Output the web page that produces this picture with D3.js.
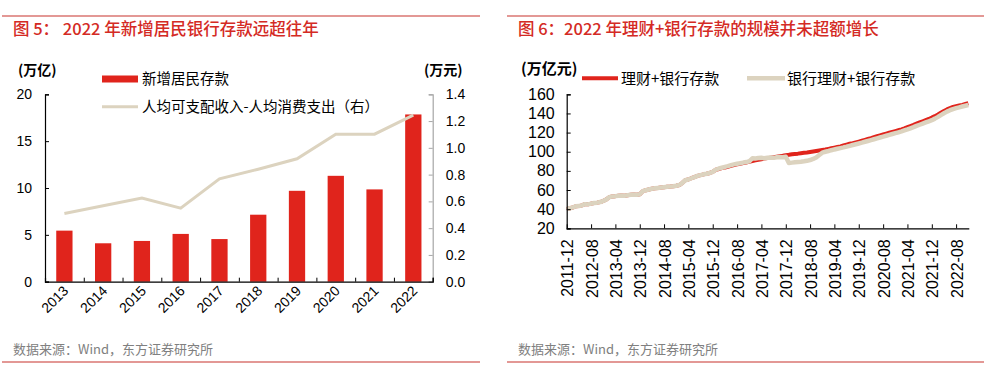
<!DOCTYPE html>
<html>
<head>
<meta charset="utf-8">
<script src="https://cdn.jsdelivr.net/npm/d3@7"></script>
<style>
    body { margin: 0; background: #fff; }
    svg text { font-family: "Liberation Sans", Arial, sans-serif; fill: #000; }
    svg text.cjk { font-family: "Noto Sans CJK SC", "Liberation Sans", sans-serif; }
</style>
</head>
<body>
<svg id="chart" width="999" height="378"></svg>
<script>
// ---- data: left chart (figure 5)
const years = ["2013", "2014", "2015", "2016", "2017", "2018", "2019", "2020", "2021", "2022"];
const newDeposits = [5.45, 4.1, 4.35, 5.1, 4.55, 7.15, 9.7, 11.3, 9.85, 17.85];
const incomeSurplus = [0.51, 0.567, 0.625, 0.55, 0.768, 0.84, 0.918, 1.102, 1.102, 1.245];
const leftTicks = [0, 5, 10, 15, 20];
const rightTicks = [0, 0.2, 0.4, 0.6, 0.8, 1.0, 1.2, 1.4];

// ---- data: right chart (figure 6), monthly 2011-12 .. 2022-12
const firstMonth = "2011-12";
const monthTickLabels = ["2011-12", "2012-08", "2013-04", "2013-12", "2014-08", "2015-04", "2015-12", "2016-08",
    "2017-04", "2017-12", "2018-08", "2019-04", "2019-12", "2020-08", "2021-04", "2021-12", "2022-08"];
const wmpDeposit = [40.0,
    41.0, 41.8, 43.0, 43.2, 44.0, 45.2, 45.0, 45.8, 46.5, 46.8, 47.4, 48.6,
    50.2, 52.5, 53.3, 53.6, 54.0, 54.3, 54.1, 54.6, 55.0, 55.2, 55.0, 55.6,
    58.8, 59.8, 60.5, 61.3, 61.8, 62.2, 62.6, 63.0, 63.4, 63.6, 63.9, 64.5,
    65.2, 67.5, 70.2, 71.0, 72.3, 73.5, 74.8, 75.6, 76.4, 77.0, 77.8, 79.0,
    81.2, 82.0, 82.8, 83.6, 84.3, 85.2, 86.0, 86.8, 87.5, 88.2, 88.8, 89.6,
    90.3, 91.0, 91.6, 92.2, 92.8, 93.3, 93.8, 94.3, 94.8, 95.3, 95.8, 96.4,
    96.8, 97.3, 97.6, 98.0, 98.5, 98.9, 99.3, 99.8, 100.3, 100.8, 101.3, 101.8,
    102.3, 103.0, 103.6, 104.3, 105.0, 105.6, 106.5, 107.4, 108.3, 109.0, 109.8, 110.6,
    111.5, 112.4, 113.3, 114.2, 115.2, 116.2, 117.1, 118.0, 118.9, 119.8, 120.7, 121.6,
    122.5, 123.4, 124.4, 125.6, 126.8, 128.0, 129.3, 130.6, 131.8, 133.0, 134.2, 135.6,
    137.2, 139.0, 140.8, 142.6, 144.2, 145.6, 146.8, 147.6, 148.3, 149.0, 149.8, 150.6];
const bankWmpDeposit = [40.0,
    41.0, 41.8, 43.0, 43.2, 44.0, 45.2, 45.0, 45.8, 46.5, 46.8, 47.4, 48.6,
    50.2, 52.5, 53.3, 53.6, 54.0, 54.3, 54.1, 54.6, 55.0, 55.2, 55.0, 55.6,
    58.8, 59.8, 60.5, 61.3, 61.8, 62.2, 62.6, 63.0, 63.4, 63.6, 63.9, 64.5,
    65.2, 67.5, 70.2, 71.0, 72.3, 73.5, 74.8, 75.6, 76.4, 77.0, 77.8, 79.0,
    81.2, 82.5, 83.3, 84.2, 85.0, 86.0, 86.8, 87.5, 88.0, 88.6, 89.2, 90.0,
    93.2, 93.0, 93.4, 93.6, 93.2, 93.8, 94.0, 93.6, 94.2, 94.4, 94.3, 94.8,
    88.2, 88.6, 89.0, 89.3, 89.6, 90.0, 90.5, 91.3, 92.5, 94.0, 96.5, 99.0,
    100.0, 100.8, 101.6, 102.4, 103.1, 103.8, 104.5, 105.3, 106.2, 107.0, 107.8, 108.6,
    109.5, 110.4, 111.2, 112.1, 113.0, 114.0, 114.9, 115.8, 116.7, 117.6, 118.5, 119.4,
    120.3, 121.2, 122.2, 123.3, 124.5, 125.7, 127.0, 128.2, 129.4, 130.6, 131.8, 133.0,
    134.6, 136.4, 138.3, 140.2, 141.9, 143.4, 144.6, 145.6, 146.4, 147.2, 148.0, 148.8];
const rightYTicks = [20, 40, 60, 80, 100, 120, 140, 160];

const RED = "#e0241c";
const BEIGE = "#dcd3bf";
const RULE = "#c8322d";

const svg = d3.select("svg#chart");

// Frame: red rules, title, source note
function frame(x0, x1, tx, title) {
    svg.append("line").attr("x1", x0).attr("x2", x1).attr("y1", 16).attr("y2", 16)
        .attr("stroke", RULE).attr("stroke-width", 1.2);
    svg.append("line").attr("x1", x0).attr("x2", x1).attr("y1", 362).attr("y2", 362)
        .attr("stroke", RULE).attr("stroke-width", 1.2);
    svg.append("text").attr("class", "cjk").attr("x", tx).attr("y", 35)
        .attr("font-size", 16.5).attr("font-weight", 500).style("fill", "#d42a24").text(title);
    svg.append("text").attr("class", "cjk").attr("x", tx).attr("y", 354)
        .attr("font-size", 13).style("fill", "#808080").text("数据来源：Wind，东方证券研究所");
}
frame(2, 480, 13, "图 5： 2022 年新增居民银行存款远超往年");
frame(507, 984, 518, "图 6：2022 年理财+银行存款的规模并未超额增长");

//#region left chart
const L = { left: 45, right: 432.7, top: 94.3, bottom: 281.7 };
const xBand = d3.scaleBand().domain(years).range([L.left, L.right]);
const yLeft = d3.scaleLinear().domain([0, 20]).range([L.bottom, L.top]);
const yRight = d3.scaleLinear().domain([0, 1.4]).range([L.bottom, L.top]);

const gl = svg.append("g");

// bars
const barW = xBand.bandwidth() * 0.42;
gl.selectAll("rect.bar").data(newDeposits).enter().append("rect")
    .attr("class", "bar")
    .attr("x", (d, i) => xBand(years[i]) + (xBand.bandwidth() - barW) / 2)
    .attr("width", barW)
    .attr("y", d => yLeft(d))
    .attr("height", d => yLeft(0) - yLeft(d))
    .attr("fill", RED);

// secondary line
const surplusLine = d3.line()
    .x((d, i) => xBand(years[i]) + xBand.bandwidth() / 2)
    .y(d => yRight(d));
gl.append("path").datum(incomeSurplus).attr("d", surplusLine)
    .attr("fill", "none").attr("stroke", BEIGE).attr("stroke-width", 3);

// axes
const axL = gl.append("g").attr("transform", `translate(${L.left},0)`)
    .call(d3.axisLeft(yLeft).tickValues(leftTicks).tickSize(-4).tickPadding(13));
const axR = gl.append("g").attr("transform", `translate(${L.right},0)`)
    .call(d3.axisRight(yRight).tickValues(rightTicks).tickSize(-4).tickPadding(13).tickFormat(d3.format(".1f")));
axR.selectAll("path,line").attr("stroke", "#a6a6a6");
const boundaries = d3.range(years.length + 1).map(i => L.left + i * xBand.step());
const axB = gl.append("g").attr("transform", `translate(0,${L.bottom})`)
    .call(d3.axisBottom(d3.scaleLinear().domain([L.left, L.right]).range([L.left, L.right]))
        .tickValues(boundaries).tickSize(-4).tickFormat(""));
[axL, axR, axB].forEach(a => {
    a.select(".domain").attr("stroke-width", 1.2);
    a.selectAll("text").attr("font-size", 14).attr("font-family", "Liberation Sans, Arial, sans-serif").style("fill", "#000");
});
axB.select(".domain").attr("stroke", "#000");

// rotated year labels
gl.selectAll("text.year").data(years).enter().append("text")
    .attr("class", "year")
    .attr("font-size", 14)
    .attr("text-anchor", "end")
    .attr("transform", d => `translate(${xBand(d) + xBand.bandwidth() / 2 + 5},${L.bottom + 10}) rotate(-45)`)
    .text(d => d);

// unit labels
gl.append("text").attr("class", "cjk").attr("x", 18).attr("y", 75).attr("font-size", 14)
    .attr("font-weight", "bold").text("(万亿)");
gl.append("text").attr("class", "cjk").attr("x", 424).attr("y", 75).attr("font-size", 14)
    .attr("font-weight", "bold").text("(万元)");

// legend
gl.append("rect").attr("x", 102).attr("y", 75.5).attr("width", 36).attr("height", 7).attr("fill", RED);
gl.append("text").attr("class", "cjk").attr("x", 142).attr("y", 84).attr("font-size", 14.5).text("新增居民存款");
gl.append("line").attr("x1", 102).attr("x2", 138).attr("y1", 106.7).attr("y2", 106.7)
    .attr("stroke", BEIGE).attr("stroke-width", 3);
gl.append("text").attr("class", "cjk").attr("x", 142).attr("y", 112).attr("font-size", 14.5)
    .text("人均可支配收入-人均消费支出（右）");
//#endregion

//#region right chart
const R = { left: 566.7, right: 968.3, top: 94.3, bottom: 228.3 };
const parseMonth = d3.timeParse("%Y-%m");
const months = d3.timeMonth.range(parseMonth(firstMonth), d3.timeMonth.offset(parseMonth(firstMonth), wmpDeposit.length));
const xTime = d3.scaleTime().domain([months[0], months[months.length - 1]]).range([R.left, R.right]);
const yVal = d3.scaleLinear().domain([20, 160]).range([R.bottom, R.top]);

const gr = svg.append("g");

const valLine = d3.line()
    .x((d, i) => xTime(months[i]))
    .y(d => yVal(d));
gr.append("path").datum(wmpDeposit).attr("d", valLine)
    .attr("fill", "none").attr("stroke", RED).attr("stroke-width", 4).attr("stroke-linejoin", "round");
gr.append("path").datum(bankWmpDeposit).attr("d", valLine)
    .attr("fill", "none").attr("stroke", BEIGE).attr("stroke-width", 4.5).attr("stroke-linejoin", "round");

const axRY = gr.append("g").attr("transform", `translate(${R.left},0)`)
    .call(d3.axisLeft(yVal).tickValues(rightYTicks).tickSize(-4).tickPadding(12));
const tickDates = monthTickLabels.map(parseMonth);
const axRX = gr.append("g").attr("transform", `translate(0,${R.bottom})`)
    .call(d3.axisBottom(xTime.copy().domain([months[0], d3.timeMonth.offset(months[months.length - 1], 0)]))
        .tickValues(tickDates).tickSize(-4).tickFormat(""));
axRX.select(".domain").attr("d", `M${R.left},0.5H${R.right + 1}`);
[axRY, axRX].forEach(a => {
    a.select(".domain").attr("stroke-width", 1.2);
    a.selectAll("text").attr("font-size", 16).attr("font-family", "Liberation Sans, Arial, sans-serif").style("fill", "#000");
});

gr.selectAll("text.month").data(monthTickLabels).enter().append("text")
    .attr("class", "month")
    .attr("font-size", 16)
    .attr("text-anchor", "end")
    .attr("dy", "0.35em")
    .attr("transform", d => `translate(${xTime(parseMonth(d)) + 1},${R.bottom + 11}) rotate(-90)`)
    .text(d => d);

gr.append("text").attr("class", "cjk").attr("x", 521).attr("y", 74).attr("font-size", 15)
    .attr("font-weight", "bold").text("(万亿元)");

// legend
gr.append("line").attr("x1", 582).attr("x2", 618).attr("y1", 78.3).attr("y2", 78.3)
    .attr("stroke", RED).attr("stroke-width", 4);
gr.append("text").attr("class", "cjk").attr("x", 621).attr("y", 84).attr("font-size", 15).text("理财+银行存款");
gr.append("line").attr("x1", 747).attr("x2", 785).attr("y1", 78.3).attr("y2", 78.3)
    .attr("stroke", BEIGE).attr("stroke-width", 4.5);
gr.append("text").attr("class", "cjk").attr("x", 787).attr("y", 84).attr("font-size", 15).text("银行理财+银行存款");
//#endregion
</script>
</body>
</html>
